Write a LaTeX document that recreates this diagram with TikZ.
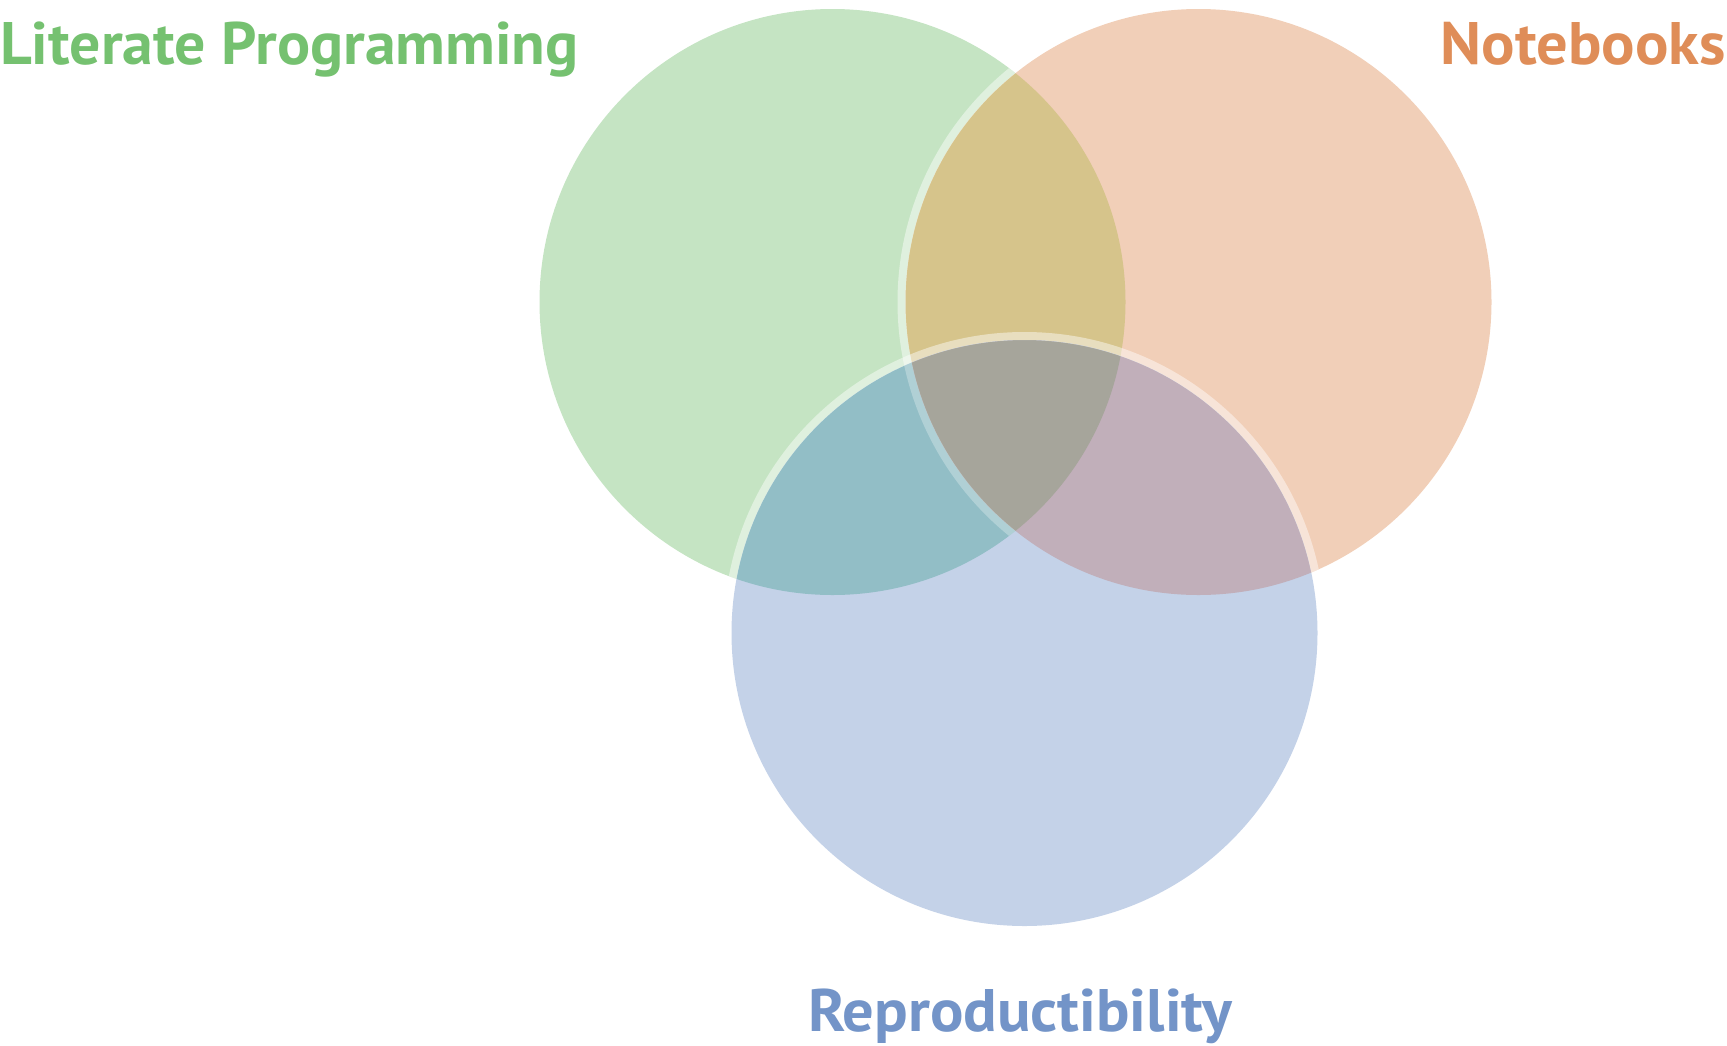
\documentclass[tikz,border=0pt]{standalone}
\usepackage{graphicx}
\usepackage{fontspec}
\setmainfont{PT Sans}
\definecolor{lpgreen}{RGB}{117,193,112}
\definecolor{nborange}{RGB}{223,141,88}
\definecolor{repblue}{RGB}{115,148,200}
\definecolor{fG}{RGB}{197,228,195}
\definecolor{fO}{RGB}{241,207,184}
\definecolor{fB}{RGB}{196,210,232}
\definecolor{fGO}{RGB}{214,196,139}
\definecolor{fGB}{RGB}{146,190,198}
\definecolor{fOB}{RGB}{193,175,186}
\definecolor{fC}{RGB}{166,165,155}
\begin{document}
\begin{tikzpicture}[x=1pt,y=-1pt,
  disc/.style={circle, inner sep=0pt, outer sep=0pt, minimum size=586pt},
  ring/.style={draw=white, line width=8pt, draw opacity=#1},
  ring/.default=0.45,
  lab/.style={inner sep=0pt, font=\fontsize{60}{60}\selectfont\bfseries}]
\useasboundingbox (0,0) rectangle (1727,1045);
% circles (named)
\node[disc, fill=fG] (lp) at (832.5,302) {};
\node[disc, fill=fO] (nb) at (1198.5,302) {};
% green & orange overlap
\begin{scope}
  \clip (lp.center) circle[radius=293pt];
  \fill[fGO] (nb.center) circle[radius=293pt];
  \draw[ring] (nb.center) circle[radius=297pt];
\end{scope}
\node[disc, fill=fB] (rep) at (1024.5,633) {};
% overlaps with blue
\begin{scope}
  \clip (rep.center) circle[radius=293pt];
  \fill[fGB] (lp.center) circle[radius=293pt];
  \fill[fOB] (nb.center) circle[radius=293pt];
  \clip (lp.center) circle[radius=293pt];
  \fill[fC] (nb.center) circle[radius=293pt];
  \draw[ring=0.28] (nb.center) circle[radius=297pt];
\end{scope}
% blue ring over the other two circles
\begin{scope}
  \clip (lp.center) circle[radius=293pt] (nb.center) circle[radius=293pt];
  \draw[ring] (rep.center) circle[radius=297pt];
\end{scope}
% labels
\node[lab, text=lpgreen, anchor=base west] (lplab) at (0,64) {\scalebox{1.03}[1]{Literate Programming}};
\node[lab, text=nborange, anchor=base east] (nblab) at (1726,64) {\scalebox{1.04}[1]{Notebooks}};
\node[lab, text=repblue, anchor=base west] (replab) at (808,1031) {\scalebox{1.04}[1]{Reproductibility}};
\end{tikzpicture}
\end{document}
